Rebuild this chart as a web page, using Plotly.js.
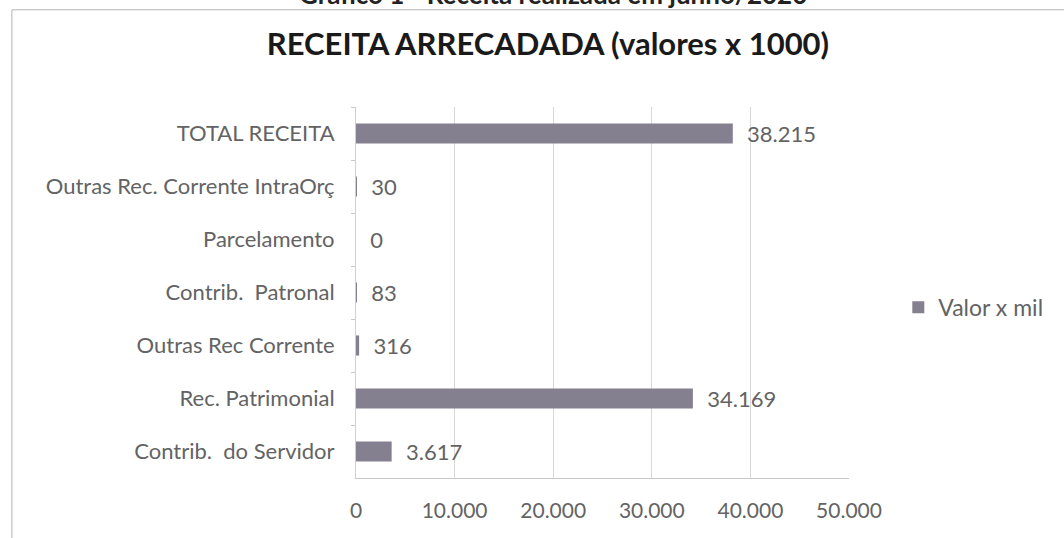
<!DOCTYPE html>
<html>
<head>
<meta charset="utf-8">
<script src="https://cdn.plot.ly/plotly-3.0.1.min.js"></script>
<style>
  html, body { margin: 0; padding: 0; background: #fff; }
  #chart { width: 1064px; height: 538px; }
</style>
</head>
<body>
<div id="chart"></div>
<script>
// receita arrecadada, valores x 1000 (top to bottom as in the chart)
var categorias = [
  'TOTAL RECEITA',
  'Outras Rec. Corrente IntraOrç',
  'Parcelamento',
  'Contrib.  Patronal',
  'Outras Rec Corrente',
  'Rec. Patrimonial',
  'Contrib.  do Servidor'
];
var valores = [38215, 30, 0, 83, 316, 34169, 3617];
var ticksX = [0, 10000, 20000, 30000, 40000, 50000];

var cinza = '#636363';
var fonte = 'Lato, sans-serif';

var data = [{
  type: 'bar',
  orientation: 'h',
  name: 'Valor x mil',
  y: categorias,
  x: valores,
  width: 0.38,
  marker: {color: '#858090', line: {width: 0}},
  texttemplate: '\u00a0\u00a0%{x:,}',
  textposition: 'outside',
  constraintext: 'none',
  cliponaxis: false,
  textfont: {family: fonte, size: 22, color: cinza},
  hoverinfo: 'y+x'
}];

var layout = {
  width: 1064,
  height: 538,
  separators: ',.',
  paper_bgcolor: '#fff',
  plot_bgcolor: '#fff',
  margin: {l: 356, r: 215, t: 107, b: 60},
  font: {family: fonte, color: cinza, size: 20},
  title: {
    text: 'RECEITA ARRECADADA (valores x 1000)',
    font: {family: fonte, size: 31, color: '#1a1a1a', weight: 'bold'},
    x: 0.515, xanchor: 'center',
    y: 0.918, yanchor: 'middle'
  },
  xaxis: {
    range: [0, 50000],
    tickvals: ticksX,
    tickformat: ',',
    showgrid: true,
    gridcolor: '#d8d8d8',
    zeroline: false,
    showline: true,
    linecolor: '#c8c8c8',
    ticks: '',
    ticklabelstandoff: 14,
    tickfont: {size: 21, color: cinza},
    fixedrange: true
  },
  yaxis: {
    type: 'category',
    autorange: 'reversed',
    showgrid: false,
    zeroline: false,
    showline: true,
    linecolor: '#d0d0d0',
    ticks: 'outside',
    tickson: 'boundaries',
    ticklen: 4,
    tickcolor: '#c8c8c8',
    ticklabelstandoff: 16,
    tickfont: {size: 22, color: cinza},
    fixedrange: true
  },
  showlegend: true,
  legend: {
    x: 1.1, xanchor: 'left',
    y: 0.46, yanchor: 'middle',
    font: {size: 23, color: cinza},
    itemwidth: 30
  },
  annotations: [{
    text: '<b>Gráfico 1 - Receita realizada em junho/2020</b>',
    xref: 'paper', yref: 'paper',
    x: 0.4, y: 1.305, xanchor: 'center', yanchor: 'middle',
    showarrow: false,
    font: {family: fonte, size: 26, color: '#222'}
  }],
  shapes: [{
    type: 'rect',
    xref: 'paper', yref: 'paper',
    x0: -0.698, x1: 1.5, y0: -0.3, y1: 1.262,
    line: {color: '#b4b4b4', width: 1},
    fillcolor: 'rgba(0,0,0,0)',
    layer: 'below'
  }]
};

Plotly.newPlot('chart', data, layout, {displayModeBar: false});
</script>
</body>
</html>
